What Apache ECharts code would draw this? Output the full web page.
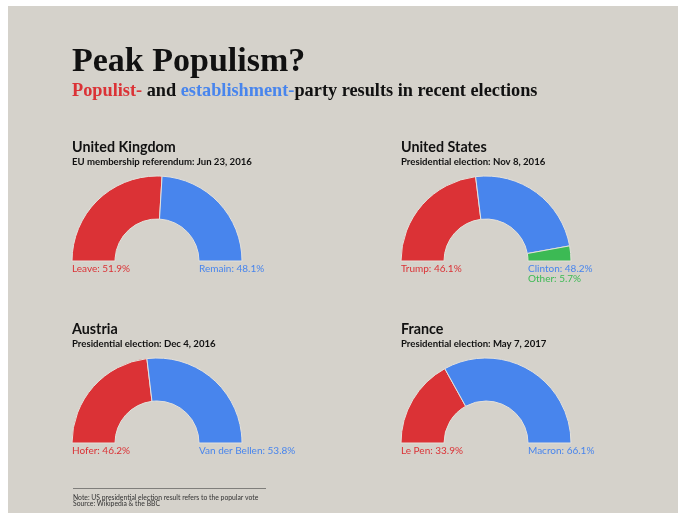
<!DOCTYPE html>
<html>
<head>
<meta charset="utf-8">
<script src="https://cdn.jsdelivr.net/npm/echarts@6/dist/echarts.min.js"></script>
<style>
html, body { margin: 0; padding: 0; background: #fff; }
#chart { width: 680px; height: 513px; }
</style>
</head>
<body>
<div id="chart"></div>
<script>
// election results (percent of vote)
const ukNames = ['Leave', 'Remain'];
const ukValues = [51.9, 48.1];
const usNames = ['Trump', 'Clinton', 'Other'];
const usValues = [46.1, 48.2, 5.7];
const atNames = ['Hofer', 'Van der Bellen'];
const atValues = [46.2, 53.8];
const frNames = ['Le Pen', 'Macron'];
const frValues = [33.9, 66.1];

const countries = ['United Kingdom', 'United States', 'Austria', 'France'];
const elections = [
    'EU membership referendum: Jun 23, 2016',
    'Presidential election: Nov 8, 2016',
    'Presidential election: Dec 4, 2016',
    'Presidential election: May 7, 2017'
];

const RED = '#db3236';
const BLUE = '#4885ed';
const GREEN = '#3cba54';
const BG = '#d5d2cb';
const SANS = 'Lato, "Noto Sans", sans-serif';
const SERIF = '"Liberation Serif", serif';

// 每个国家的半环图位置
const panels = [
    { names: ukNames, values: ukValues, center: [157, 261] },
    { names: usNames, values: usValues, center: [486, 261] },
    { names: atNames, values: atValues, center: [157, 443] },
    { names: frNames, values: frValues, center: [486, 443] }
];
const sliceColors = [RED, BLUE, GREEN];
const R_OUT = 85;
const R_IN = 42;

const chart = echarts.init(document.getElementById('chart'));

const graphic = [
    { type: 'rect', shape: { x: 8, y: 6, width: 670, height: 507 }, style: { fill: BG }, z: -10 },
    {
        type: 'text', x: 72, y: 62,
        style: { text: 'Peak Populism?', font: 'bold 34px ' + SERIF, fill: '#111', verticalAlign: 'middle' }
    },
    {
        type: 'text', x: 72, y: 91,
        style: {
            text: '{r|Populist-} and {b|establishment-}party results in recent elections',
            font: 'bold 18.3px ' + SERIF, fill: '#111', verticalAlign: 'middle',
            rich: {
                r: { fill: RED, font: 'bold 18.3px ' + SERIF },
                b: { fill: BLUE, font: 'bold 18.3px ' + SERIF }
            }
        }
    },
    { type: 'line', shape: { x1: 73, y1: 488.5, x2: 266, y2: 488.5 }, style: { stroke: '#444', lineWidth: 0.6 } },
    {
        type: 'text', x: 73, y: 498,
        style: { text: 'Note: US presidential election result refers to the popular vote', font: '6.8px ' + SANS, fill: '#333', verticalAlign: 'middle' }
    },
    {
        type: 'text', x: 73, y: 504,
        style: { text: 'Source: Wikipedia & the BBC', font: '6.8px ' + SANS, fill: '#333', verticalAlign: 'middle' }
    }
];

const series = [];
panels.forEach((p, k) => {
    const [cx, cy] = p.center;
    graphic.push({
        type: 'text', x: cx - R_OUT, y: cy - 114,
        style: { text: countries[k], font: 'bold 14.3px ' + SANS, fill: '#111', verticalAlign: 'middle' }
    });
    graphic.push({
        type: 'text', x: cx - R_OUT, y: cy - 99,
        style: { text: elections[k], font: 'bold 9.6px ' + SANS, fill: '#111', verticalAlign: 'middle' }
    });
    // 标签: 第一个在左边, 其余在右边依次往下
    p.names.forEach((name, i) => {
        graphic.push({
            type: 'text',
            x: i === 0 ? cx - R_OUT : cx + R_IN,
            y: cy + 8 + (i === 0 ? 0 : (i - 1) * 10),
            style: {
                text: name + ': ' + p.values[i].toFixed(1) + '%',
                font: '10px ' + SANS, fill: sliceColors[i], verticalAlign: 'middle'
            }
        });
    });
    series.push({
        type: 'pie',
        center: p.center,
        radius: [R_IN, R_OUT],
        startAngle: 180,
        endAngle: 0,
        clockwise: true,
        silent: true,
        label: { show: false },
        labelLine: { show: false },
        itemStyle: { borderColor: '#e4e1db', borderWidth: 1 },
        data: p.names.map((name, i) => ({
            name: name,
            value: p.values[i],
            itemStyle: { color: sliceColors[i] }
        }))
    });
});

chart.setOption({
    backgroundColor: '#fff',
    animation: false,
    graphic: graphic,
    series: series
});
</script>
</body>
</html>
